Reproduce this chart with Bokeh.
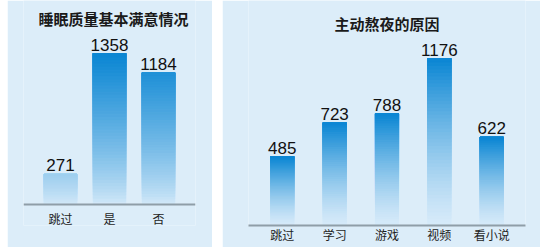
from bokeh.plotting import figure
from bokeh.models import ColumnDataSource, LabelSet, Spacer, FactorRange, Label
from bokeh.layouts import row
from bokeh.core.properties import value
from bokeh.embed import file_html
from bokeh.resources import INLINE

# ---- data ----
left_title = "睡眠质量基本满意情况"
left_cats = ["跳过", "是", "否"]
left_vals = [271, 1358, 1184]

right_title = "主动熬夜的原因"
right_cats = ["跳过", "学习", "游戏", "视频", "看小说"]
right_vals = [485, 723, 788, 1176, 622]

BG = "#dcedf9"
DARK = (10, 134, 211)
LIGHT = (214, 234, 249)
CJK = "Noto Sans CJK SC"
N = 48


def mix(t):
    t = max(0.0, min(1.0, t))
    c = [round(LIGHT[k] + (DARK[k] - LIGHT[k]) * t) for k in range(3)]
    return "#%02x%02x%02x" % tuple(c)


def gradient_source(cats, vals, ref=None, gamma=1.0):
    xs, bots, tops, cols = [], [], [], []
    for c, v in zip(cats, vals):
        for i in range(N):
            b = v * i / N
            xs.append(c)
            bots.append(b)
            tops.append(v)
            if ref is None:
                t = ((i + 0.5) / N) ** gamma
            else:
                t = ((b + v / N * 0.5) / ref) ** gamma
            cols.append(mix(t))
    return ColumnDataSource(dict(x=xs, bottom=bots, top=tops, color=cols))


def make_panel(title, cats, vals, width, y_start, y_end, bar_w, pad,
               b_left, b_right, ref, gamma, standoff, title_x, title_y, fixed):
    p = figure(x_range=FactorRange(*cats, range_padding=pad), y_range=(y_start, y_end),
               width=width, height=247, output_backend="svg",
               toolbar_location=None, min_border_left=b_left,
               min_border_right=b_right, min_border_bottom=22,
               min_border_top=0)
    p.background_fill_color = BG
    p.border_fill_color = BG
    p.outline_line_color = None
    p.grid.visible = False
    p.yaxis.visible = False
    src = gradient_source(cats, vals, ref, gamma)
    p.vbar(x="x", bottom="bottom", top="top", width=bar_w, color="color", source=src)
    lsrc = ColumnDataSource(dict(x=cats, y=vals, t=[str(v) for v in vals]))
    p.add_layout(LabelSet(x="x", y="y", text="t", source=lsrc, text_align="center",
                          text_baseline="alphabetic", y_offset=3,
                          text_font=value("Liberation Sans"),
                          text_font_size=value("17px"),
                          text_color=value("#111111")))
    p.add_layout(Label(x=title_x, y=title_y, text=title, text_align="center",
                       text_baseline="middle", text_font=CJK,
                       text_font_size="15px", text_font_style="bold",
                       text_color="#1a1a1a"))
    ax = p.xaxis[0]
    if fixed:
        ax.fixed_location = 0
    ax.axis_line_color = "#8f9ea8"
    ax.axis_line_width = 2
    ax.major_tick_line_color = None
    ax.minor_tick_line_color = None
    ax.major_tick_out = 0
    ax.major_tick_in = 0
    ax.major_label_standoff = standoff
    ax.major_label_text_font = CJK
    ax.major_label_text_font_size = "12px"
    ax.major_label_text_color = "#1e1e1e"
    return p


# left: y=0 at page y 204, frame spans page y 0..225
lsc = 151 / 1358
p1 = make_panel(left_title, left_cats, left_vals, 205, -21 / lsc, 204 / lsc,
                0.66, 0.17, 16, 17, 1358, 0.8, 5, 1.58, (204 - 18) / lsc, True)
# right: y=0 at page y 225 (frame bottom)
rsc = 0.142
p2 = make_panel(right_title, right_cats, right_vals, 318, 0, 225 / rsc,
                0.44, 0.058, 26, 15, None, 1.3, 0, 2.5, (225 - 23) / rsc, False)

layout = row(Spacer(width=7, height=247), p1, Spacer(width=10, height=247), p2)
open("out.html", "w").write(file_html(layout, INLINE))
